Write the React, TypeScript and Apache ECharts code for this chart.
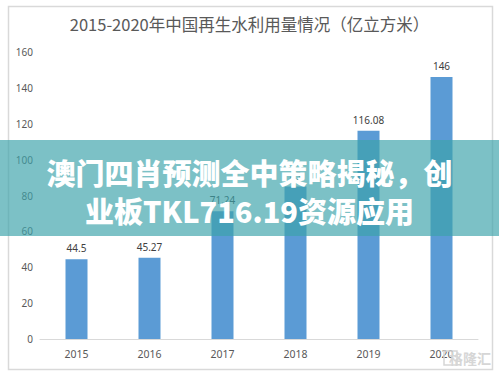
import React, { useEffect, useRef } from "react";
import * as echarts from "echarts";

const categories = ["2015", "2016", "2017", "2018", "2019", "2020"];
const values = [44.5, 45.27, 71.24, 85.0, 116.08, 146];
const labels = ["44.5", "45.27", "71.24", "85", "116.08", "146"];
const titleText = "2015-2020年中国再生水利用量情况（亿立方米）";
const bannerLine1 = "澳门四肖预测全中策略揭秘，创";
const bannerLine2 = "业板TKL716.19资源应用";

export default function App() {
  const ref = useRef<HTMLDivElement>(null);
  useEffect(() => {
    const chart = echarts.init(ref.current!, null, { renderer: "svg" });
    chart.setOption({
      animation: false,
      backgroundColor: "#ffffff",
      title: {
        text: titleText,
        left: "center",
        top: 11,
        textStyle: {
          fontFamily: "Noto Sans CJK SC",
          fontSize: 16.5,
          fontWeight: "normal",
          color: "#595959",
        },
      },
      grid: { left: 40, right: 21, top: 52, bottom: 37 },
      xAxis: {
        type: "category",
        data: categories,
        axisLine: { lineStyle: { color: "#d9d9d9" } },
        axisTick: { show: false },
        axisLabel: {
          color: "#595959",
          fontSize: 10.5,
          margin: 9,
          fontFamily: "Noto Sans",
        },
      },
      yAxis: {
        type: "value",
        min: 0,
        max: 160,
        interval: 20,
        axisLine: { show: false },
        axisTick: { show: false },
        splitLine: { show: false },
        axisLabel: {
          color: "#595959",
          fontSize: 10,
          margin: 7,
          fontFamily: "Noto Sans",
        },
      },
      series: [
        {
          type: "bar",
          data: values,
          barWidth: 22,
          itemStyle: { color: "#5b9bd5" },
          label: {
            show: true,
            position: "top",
            distance: 6,
            color: "#404040",
            fontSize: 10,
            fontFamily: "Noto Sans",
            formatter: (p: any) => labels[p.dataIndex],
          },
        },
      ],
      graphic: [
        {
          type: "rect",
          z: -10,
          silent: true,
          shape: { x: 8.5, y: 6.5, width: 484, height: 363 },
          style: { fill: "none", stroke: "#d9d9d9", lineWidth: 1.5 },
        },
        {
          type: "rect",
          z: 100,
          silent: true,
          shape: { x: 0, y: 140, width: 499, height: 96 },
          style: { fill: "rgba(60,162,170,0.67)" },
        },
        {
          type: "text",
          z: 101,
          x: 249.5,
          y: 172,
          style: {
            text: bannerLine1,
            fill: "#ffffff",
            font: "900 29px 'Noto Sans CJK SC'",
            textAlign: "center",
            textVerticalAlign: "middle",
          },
        },
        {
          type: "text",
          z: 101,
          x: 249.5,
          y: 210,
          style: {
            text: bannerLine2,
            fill: "#ffffff",
            font: "900 29px 'Noto Sans CJK SC'",
            textAlign: "center",
            textVerticalAlign: "middle",
          },
        },
        {
          type: "text",
          z: 50,
          x: 491,
          y: 358,
          style: {
            text: "格隆汇",
            fill: "#d6d6d6",
            font: "bold 14px 'Noto Sans CJK SC'",
            textAlign: "right",
            textVerticalAlign: "middle",
          },
        },
        {
          type: "rect",
          z: 50,
          shape: { x: 444, y: 351, width: 13, height: 14 },
          style: { fill: "none", stroke: "#d6d6d6", lineWidth: 1.5 },
        },
      ],
    });
    return () => chart.dispose();
  }, []);
  return (
    <div
      ref={ref}
      style={{ position: "fixed", left: 0, top: 0, width: 499, height: 376 }}
    />
  );
}
